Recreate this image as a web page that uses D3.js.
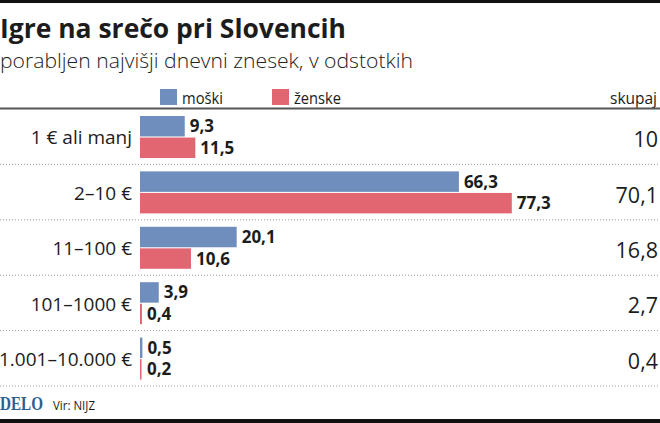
<!DOCTYPE html>
<html>
<head>
<meta charset="utf-8">
<script src="https://cdn.jsdelivr.net/npm/d3@7"></script>
<style>
  body { margin: 0; background: #fff; }
  svg { display: block; font-family: "Open Sans", sans-serif; }
</style>
</head>
<body>
<script>
// data
var categories = ["1 € ali manj", "2–10 €", "11–100 €", "101–1000 €", "1.001–10.000 €"];
var moski = [9.3, 66.3, 20.1, 3.9, 0.5];
var zenske = [11.5, 77.3, 10.6, 0.4, 0.2];
var skupaj = [10, 70.1, 16.8, 2.7, 0.4];
var seriesNames = ["moški", "ženske"];

var width = 660, height = 423;
var blue = "#6f8dbd", red = "#e26671", ink = "#1c1c1c";

var fmt = function(v) { return String(v).replace(".", ","); };

var svg = d3.select("body").append("svg")
    .attr("width", width)
    .attr("height", height);

// top and bottom rules
svg.append("rect").attr("x", 0).attr("y", 0).attr("width", width).attr("height", 3).attr("fill", "#111");
svg.append("rect").attr("x", 0).attr("y", 419).attr("width", width).attr("height", 4).attr("fill", "#111");

// title + subtitle
svg.append("text")
    .attr("x", 0).attr("y", 38)
    .attr("font-size", 27).attr("font-weight", "bold").attr("fill", ink)
    .attr("textLength", 346).attr("lengthAdjust", "spacingAndGlyphs")
    .text("Igre na srečo pri Slovencih");
svg.append("text")
    .attr("x", 0).attr("y", 68)
    .attr("font-size", 21).attr("font-weight", 300).attr("fill", "#222")
    .attr("textLength", 413).attr("lengthAdjust", "spacingAndGlyphs")
    .text("porabljen najvišji dnevni znesek, v odstotkih");

// legend
var legendX = [160, 272];
var legend = svg.append("g").selectAll("g")
    .data(seriesNames)
    .enter().append("g")
    .attr("transform", (d, i) => "translate(" + legendX[i] + ",89)");
legend.append("rect").attr("width", 17).attr("height", 16)
    .attr("fill", (d, i) => i == 0 ? blue : red);
legend.append("text").attr("x", 22).attr("y", 15)
    .attr("font-size", 16.5).attr("fill", ink)
    .attr("textLength", (d, i) => i == 0 ? 41 : 47).attr("lengthAdjust", "spacingAndGlyphs")
    .text(d => d);
svg.append("text").attr("x", 657).attr("y", 104)
    .attr("text-anchor", "end").attr("font-size", 16.5).attr("fill", ink)
    .attr("textLength", 47).attr("lengthAdjust", "spacingAndGlyphs")
    .text("skupaj");

// header rule
svg.append("rect").attr("x", 0).attr("y", 107.5).attr("width", width).attr("height", 2).attr("fill", "#555");

// scales
var y = d3.scaleBand().domain(categories).range([109, 386]);
var ySub = d3.scaleBand().domain(seriesNames).range([7, 49]).paddingInner(0.05);
var x = d3.scaleLinear().domain([0, 100]).range([140, 621]);

// dotted row separators
svg.append("g").selectAll("line")
    .data(categories)
    .enter().append("line")
    .attr("x1", 0).attr("x2", width)
    .attr("y1", d => y(d) + y.bandwidth()).attr("y2", d => y(d) + y.bandwidth())
    .attr("stroke", "#9a9a9a").attr("stroke-width", 1).attr("stroke-dasharray", "1,2");

var rows = categories.map((c, i) => ({ cat: c, vals: [moski[i], zenske[i]], total: skupaj[i] }));

var row = svg.append("g").selectAll("g")
    .data(rows)
    .enter().append("g")
    .attr("transform", d => "translate(0," + y(d.cat) + ")");

row.append("text")
    .attr("x", 132).attr("y", y.bandwidth() / 2 + 1).attr("dy", "0.35em")
    .attr("text-anchor", "end").attr("font-size", 19).attr("fill", ink)
    .text(d => d.cat);

row.append("text")
    .attr("x", 658).attr("y", y.bandwidth() / 2 + 3).attr("dy", "0.35em")
    .attr("text-anchor", "end").attr("font-size", 21.5).attr("fill", ink)
    .text(d => fmt(d.total));

var bar = row.selectAll("g.bar")
    .data(d => d.vals.map((v, i) => ({ key: seriesNames[i], v: v })))
    .enter().append("g").attr("class", "bar");

bar.append("rect")
    .attr("x", x(0))
    .attr("y", d => ySub(d.key))
    .attr("width", d => Math.max(x(d.v) - x(0), 1.5))
    .attr("height", ySub.bandwidth())
    .attr("fill", d => d.key == "moški" ? blue : red);

bar.append("text")
    .attr("x", d => Math.max(x(d.v), x(0) + 2) + 5)
    .attr("y", d => ySub(d.key) + ySub.bandwidth() / 2)
    .attr("dy", "0.35em")
    .attr("font-size", 17).attr("font-weight", "bold").attr("fill", ink)
    .text(d => fmt(d.v));

// footer
svg.append("text").attr("x", 0).attr("y", 410)
    .attr("font-family", "'Liberation Serif', serif").attr("font-weight", "bold")
    .attr("font-size", 18.5).attr("fill", "#2d5f93")
    .attr("textLength", 43).attr("lengthAdjust", "spacingAndGlyphs")
    .text("DELO");
svg.append("text").attr("x", 53).attr("y", 410)
    .attr("font-size", 13.5).attr("fill", ink)
    .attr("textLength", 42).attr("lengthAdjust", "spacingAndGlyphs")
    .text("Vir: NIJZ");
</script>
</body>
</html>
